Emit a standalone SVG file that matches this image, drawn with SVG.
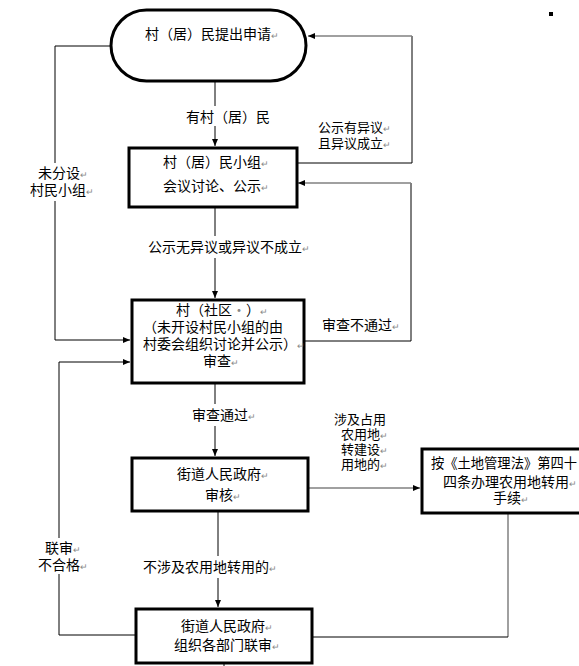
<svg xmlns="http://www.w3.org/2000/svg" width="579" height="666" viewBox="0 0 579 666">
<style>
text{font-family:"Noto Sans CJK SC","Liberation Sans",sans-serif;font-size:14px;fill:#000}
.s{font-size:13px}
.m{fill:#888;font-size:9px}
.box{fill:#fff;stroke:#000;stroke-width:3}
.c{fill:none;stroke:#000;stroke-width:1}
.g{fill:none;stroke:#808080;stroke-width:1.5}
.bg{fill:#fff}
</style>
<defs>
<marker id="a" markerUnits="userSpaceOnUse" markerWidth="7" markerHeight="6" refX="7" refY="3" orient="auto">
<path d="M0,0 L7,3 L0,6 z" fill="#000"/>
</marker>
</defs>
<rect width="579" height="666" fill="#fff"/>
<g id="connectors">
<path class="c" d="M215,81 V146" marker-end="url(#a)"/>
<path class="c" d="M297,163 H412 V36"/>
<path class="g" d="M412,36 H308" marker-end="url(#a)"/>
<path class="c" d="M215,207 V298" marker-end="url(#a)"/>
<path class="c" d="M304,341 H411 V183"/>
<path class="g" d="M411,183 H298" marker-end="url(#a)"/>
<path class="c" d="M111,46 H55 V340 H130" marker-end="url(#a)"/>
<path class="c" d="M135,635 H59 V362 H130" marker-end="url(#a)"/>
<path class="c" d="M215,383 V456" marker-end="url(#a)"/>
<path class="g" d="M308,488 H420" marker-end="url(#a)"/>
<path class="g" d="M508,513 V637"/>
<path class="c" d="M508,637 H312"/>
<path class="c" d="M218,511 V607" marker-end="url(#a)"/>
<path class="c" d="M224,663 V666"/>
</g>
<g id="labels">
<rect class="bg" x="180" y="106" width="96" height="20"/>
<text x="186" y="122">有村（居）民</text>
<text class="s" x="318" y="132">公示有异议<tspan class="m">↵</tspan></text>
<text class="s" x="318" y="148">且异议成立<tspan class="m">↵</tspan></text>
<rect class="bg" x="28" y="163" width="70" height="38"/>
<text x="38" y="178">未分设<tspan class="m">↵</tspan></text>
<text x="30" y="195">村民小组<tspan class="m">↵</tspan></text>
<rect class="bg" x="144" y="236" width="172" height="22"/>
<text x="148" y="252">公示无异议或异议不成立<tspan class="m">↵</tspan></text>
<text x="322" y="330">审查不通过<tspan class="m">↵</tspan></text>
<rect class="bg" x="188" y="404" width="68" height="22"/>
<text x="192" y="420">审查通过<tspan class="m">↵</tspan></text>
<text class="s" x="334" y="424">涉及占用</text>
<text class="s" x="341" y="439">农用地<tspan class="m">↵</tspan></text>
<text class="s" x="341" y="454">转建设<tspan class="m">↵</tspan></text>
<text class="s" x="341" y="469">用地的<tspan class="m">↵</tspan></text>
<rect class="bg" x="38" y="538" width="50" height="36"/>
<text x="45" y="553">联审<tspan class="m">↵</tspan></text>
<text x="38" y="570">不合格<tspan class="m">↵</tspan></text>
<rect class="bg" x="140" y="556" width="146" height="22"/>
<text x="143" y="572">不涉及农用地转用的<tspan class="m">↵</tspan></text>
<rect x="549" y="12" width="4" height="4" fill="#000"/>
</g>
<g id="n1">
<rect class="box" x="111" y="10" width="195" height="71" rx="35.5" ry="35.5"/>
<text x="145" y="39">村（居）民提出申请<tspan class="m">↵</tspan></text>
</g>
<g id="n2">
<rect class="box" x="129" y="148" width="168" height="59"/>
<text x="163" y="167">村（居）民小组<tspan class="m">↵</tspan></text>
<text x="163" y="191">会议讨论、公示<tspan class="m">↵</tspan></text>
</g>
<g id="n3">
<rect class="box" x="132" y="300" width="172" height="83"/>
<text x="176" y="315">村（社区<tspan fill="#888">·</tspan>）<tspan class="m">↵</tspan></text>
<text x="143" y="332">（未开设村民小组的由</text>
<text x="143" y="349">村委会组织讨论并公示）<tspan class="m">↵</tspan></text>
<text x="203" y="366">审查<tspan class="m">↵</tspan></text>
</g>
<g id="n4">
<rect class="box" x="132" y="458" width="176" height="53"/>
<text x="177" y="479">街道人民政府<tspan class="m">↵</tspan></text>
<text x="205" y="500">审核<tspan class="m">↵</tspan></text>
</g>
<g id="n5">
<rect class="box" x="422" y="449" width="180" height="64"/>
<text x="431" y="468" textLength="146" lengthAdjust="spacingAndGlyphs">按《土地管理法》第四十</text>
<text x="443" y="487">四条办理农用地转用<tspan class="m">↵</tspan></text>
<text x="493" y="503">手续<tspan class="m">↵</tspan></text>
</g>
<g id="n6">
<rect class="box" x="136" y="609" width="176" height="54"/>
<text x="181" y="631">街道人民政府<tspan class="m">↵</tspan></text>
<text x="174" y="650">组织各部门联审<tspan class="m">↵</tspan></text>
</g>
</svg>
